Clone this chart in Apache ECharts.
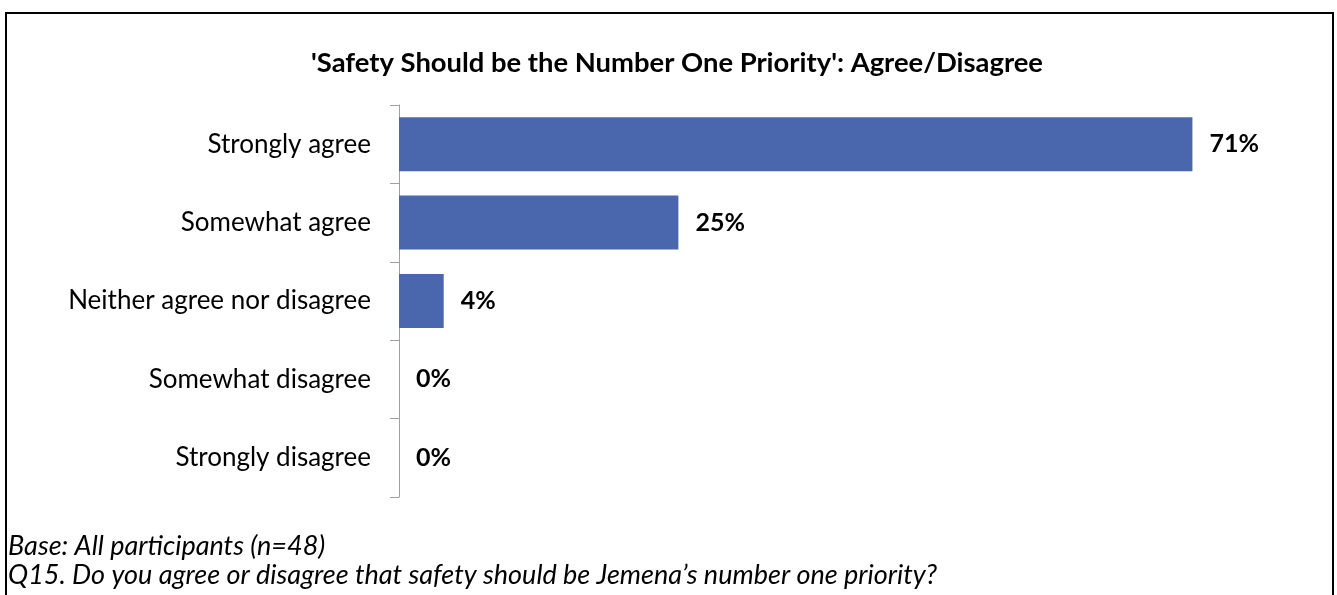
<!DOCTYPE html>
<html>
<head>
<meta charset="utf-8">
<script src="https://cdn.jsdelivr.net/npm/echarts@6/dist/echarts.min.js"></script>
<style>
  html, body { margin: 0; padding: 0; background: #fff; }
  #chart { width: 1337px; height: 595px; }
</style>
</head>
<body>
<div id="chart"></div>
<script>
// Survey responses, share of participants (%)
const categories = [
  'Strongly agree',
  'Somewhat agree',
  'Neither agree nor disagree',
  'Somewhat disagree',
  'Strongly disagree'
];
const shares = [71, 25, 4, 0, 0];

const titleText = "'Safety Should be the Number One Priority': Agree/Disagree";
const baseNote = 'Base: All participants (n=48)';
const questionNote = 'Q15. Do you agree or disagree that safety should be Jemena\u2019s number one priority?';

const FONT = 'Lato, "Noto Sans", sans-serif';

const chart = echarts.init(document.getElementById('chart'), null, { renderer: 'canvas' });

chart.setOption({
  backgroundColor: '#ffffff',
  animation: false,
  title: [
    {
      text: titleText,
      left: 677, top: 50, textAlign: 'center', padding: 0,
      textStyle: { fontFamily: FONT, fontSize: 27.4, fontWeight: 'bold', color: '#000' }
    },
    {
      text: baseNote,
      left: 8, top: 533, padding: 0,
      textStyle: { fontFamily: FONT, fontSize: 27, fontStyle: 'italic', fontWeight: 'normal', color: '#000' }
    },
    {
      text: questionNote,
      left: 8, top: 562, padding: 0,
      textStyle: { fontFamily: FONT, fontSize: 27, fontStyle: 'italic', fontWeight: 'normal', color: '#000' }
    }
  ],
  graphic: [
    {
      type: 'rect',
      shape: { x: 6, y: 13, width: 1327, height: 620 },
      style: { fill: null, stroke: '#000', lineWidth: 2 },
      silent: true
    }
  ],
  grid: { left: 399, top: 105, width: 894, height: 392, containLabel: false },
  xAxis: {
    type: 'value', min: 0, max: 80, show: false
  },
  yAxis: {
    type: 'category',
    data: categories,
    inverse: true,
    axisLine: { show: true, lineStyle: { color: '#a0a0a0', width: 1 } },
    axisTick: { show: true, length: 9, lineStyle: { color: '#a0a0a0' } },
    axisLabel: { margin: 28, fontFamily: FONT, fontSize: 26, color: '#000' },
    splitLine: { show: false }
  },
  series: [{
    type: 'bar',
    data: shares,
    barWidth: 54,
    itemStyle: { color: '#4a66ac' },
    label: {
      show: true, position: 'right', distance: 17,
      formatter: '{c}%',
      fontFamily: FONT, fontSize: 25, fontWeight: 'bold', color: '#000'
    }
  }]
});
</script>
</body>
</html>
